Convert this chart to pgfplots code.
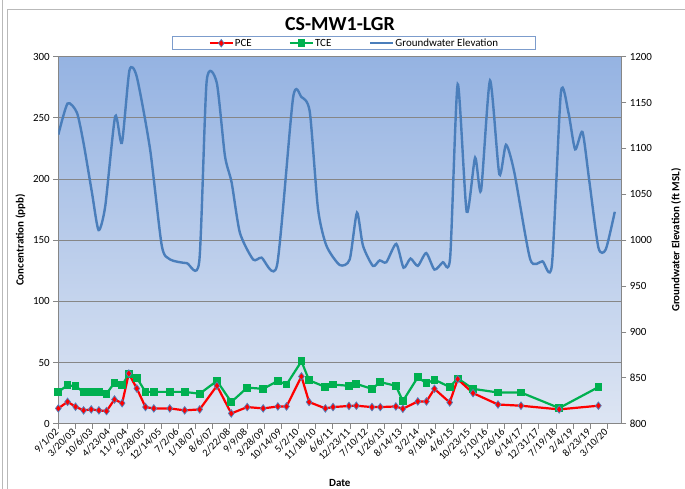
\documentclass[border=0pt]{standalone}
\usepackage{pgfplots}
\pgfplotsset{compat=1.18}
\usepackage{pgfplotstable}
\usepackage{fontspec}
\setmainfont{Carlito}
\definecolor{bgtop}{RGB}{149,179,226}
\definecolor{bgbot}{RGB}{221,229,243}
\definecolor{gridc}{RGB}{134,134,134}
\definecolor{gwblue}{RGB}{74,126,187}
\definecolor{tcegreen}{RGB}{0,176,80}
\definecolor{mkblue}{RGB}{79,129,189}
\definecolor{legc}{RGB}{124,156,204}

\pgfplotstableread{
day pce tce
0 12.5 26
108 17.9 31.5
201 13.9 30.5
295 10.9 26
384 11.7 26
473 10.9 26
562 10.3 24.5
655 19.8 33.5
744 16.8 31.5
822 41 40.5
915 28.8 37.5
1016 13.6 26
1113 12.5 26
1299 12.5 26
1473 10.9 26
1648 11.7 24.5
1849 31 35
2016 8.4 17.7
2202 13.6 29.5
2388 12.5 28.5
2559 14.1 35
2660 14.1 32
2834 38.6 51
2923 17.7 35.5
3113 12.5 30
3202 13.6 32
3388 14.5 31
3474 14.7 32.5
3656 13.6 28.5
3753 13.6 34
3934 14.1 31
4016 12.2 18.5
4190 18.2 38
4291 18.2 33
4384 28.5 36
4562 17.4 30
4655 36.4 37
4834 25 28.5
5125 15.7 25.5
5393 14.7 25.5
5838 11.7 12.8
6295 14.7 29.9
}\conc

\pgfplotstableread{
day gw
0 1115
108 1149
217 1139
294 1106
392 1052
469 1011
547 1037
663 1135
741 1106
829 1185
915 1178
1070 1099
1206 994
1303 979
1497 975
1643 977
1729 1173
1846 1172
1942 1092
2020 1063
2117 1008
2271 979
2369 981
2550 973
2736 1155
2834 1156
2931 1140
3027 1034
3125 994
3280 973
3396 979
3481 1030
3551 994
3667 972
3745 978
3823 976
3939 996
4024 970
4105 980
4190 972
4288 986
4384 968
4481 976
4567 981
4655 1170
4760 1031
4858 1090
4927 1054
5032 1174
5140 1072
5218 1104
5315 1074
5501 979
5644 977
5753 973
5858 1161
5946 1139
6024 1099
6109 1118
6187 1066
6295 992
6381 990
6486 1031
}\gw

\pgfplotsset{
  pcestyle/.style={red, line width=2.2bp, mark=diamond*, mark size=3.8bp,
     mark options={fill=red, draw=mkblue, line width=0.7bp, solid}},
  tcestyle/.style={tcegreen, line width=2.2bp, mark=square*, mark size=2.8bp,
     mark options={fill=tcegreen, draw=tcegreen, solid}},
  gwstyle/.style={gwblue, line width=2.4bp, smooth, tension=0.4, no markers},
}

\begin{document}
\begin{tikzpicture}
\useasboundingbox (0bp,0bp) rectangle (685bp,-489bp);
\draw[gray!55, line width=0.8bp] (2.7bp,0bp) -- (2.7bp,-489bp);
\draw[gray!55, line width=0.8bp] (7.3bp,-489bp) -- (7.3bp,-9.7bp) -- (685bp,-9.7bp);
\node[font=\fontsize{20}{24}\selectfont\bfseries] at (340bp,-24.5bp) {CS-MW1-LGR};

\begin{axis}[
  at={(58.3bp,-423.7bp)}, anchor=south west,
  scale only axis, width=563bp, height=367bp,
  xmin=0, xmax=6562, ymin=0, ymax=300,
  enlargelimits=false,
  axis x line*=bottom, axis y line*=left,
  axis line style={draw=gridc, line width=1bp, -},
  xtick={0,200,...,6400},
  xticklabels={9/1/02,3/20/03,10/6/03,4/23/04,11/9/04,5/28/05,12/14/05,7/2/06,1/18/07,8/6/07,2/22/08,9/9/08,3/28/09,10/14/09,5/2/10,11/18/10,6/6/11,12/23/11,7/10/12,1/26/13,8/14/13,3/2/14,9/18/14,4/6/15,10/23/15,5/10/16,11/26/16,6/14/17,12/31/17,7/19/18,2/4/19,8/23/19,3/10/20},
  xticklabel style={rotate=45, anchor=east, font=\fontsize{10.5}{12}\selectfont, inner sep=2bp},
  ytick={0,50,...,300},
  yticklabel style={font=\fontsize{11}{13}\selectfont},
  ymajorgrids, grid style={draw=gridc, line width=1bp},
  tick style={draw=gridc, line width=0.8bp},
  major tick length=5bp, tick align=outside,
  axis background/.style={top color=bgtop, bottom color=bgbot},
  ylabel={Concentration (ppb)},
  ylabel style={at={(axis description cs:-0.0671,0.5)}, anchor=center, font=\fontsize{11}{13}\selectfont\bfseries},
  xlabel={Date},
  xlabel style={at={(axis description cs:0.5,-0.1616)}, anchor=center, font=\fontsize{11}{13}\selectfont\bfseries},
  /pgf/number format/assume math mode=true,
  clip=false,
]
\addplot[tcestyle] table[x=day,y=tce] {\conc};
\addplot[pcestyle] table[x=day,y=pce] {\conc};
\end{axis}

\begin{axis}[
  at={(58.3bp,-423.7bp)}, anchor=south west,
  scale only axis, width=563bp, height=367bp,
  xmin=0, xmax=6562, ymin=800, ymax=1200,
  enlargelimits=false,
  axis x line=none, axis y line*=right,
  axis line style={draw=gridc, line width=1bp, -},
  ytick={800,850,...,1200},
  yticklabel style={font=\fontsize{11}{13}\selectfont},
  tick style={draw=gridc, line width=0.8bp},
  major tick length=5bp, tick align=outside,
  ylabel={Groundwater Elevation (ft MSL)},
  ylabel style={at={(axis description cs:1.0972,0.5)}, anchor=center, rotate=0, font=\fontsize{11}{13}\selectfont\bfseries},
  /pgf/number format/assume math mode=true,
  /pgf/number format/1000 sep={},
  legend image code/.code={\draw[mark repeat=2,mark phase=2,#1] plot coordinates {(0bp,0bp)(11.5bp,0bp)(23bp,0bp)};},
  legend columns=3,
  legend style={at={(axis description cs:0.525,1.0368)}, anchor=center,
    draw=legc, line width=0.8bp, fill=white, inner xsep=36bp, inner ysep=1bp,
    font=\fontsize{11}{13}\selectfont,
    nodes={inner xsep=1bp, inner ysep=1bp},
    /tikz/every even column/.style={column sep=0pt},
    /tikz/every odd column/.style={column sep=0pt}},
  legend cell align=left,
]
\addlegendimage{pcestyle}
\addlegendentry[text width=53bp]{PCE}
\addlegendimage{tcestyle}
\addlegendentry[text width=53bp]{TCE}
\addplot[gwstyle] table[x=day,y=gw] {\gw};
\addlegendentry{Groundwater Elevation}
\end{axis}
\end{tikzpicture}
\end{document}
